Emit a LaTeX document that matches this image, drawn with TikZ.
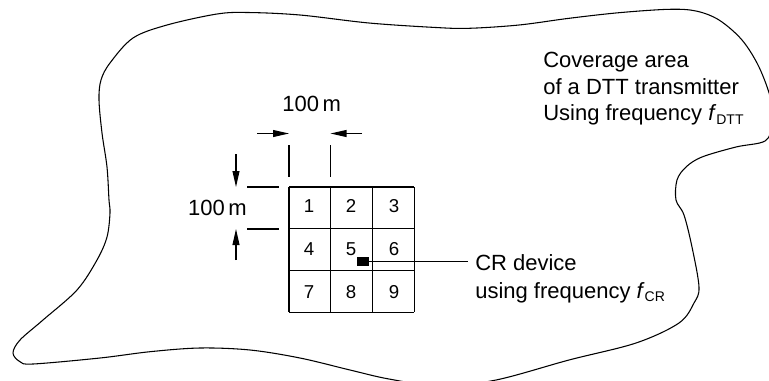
\documentclass[tikz,border=0pt]{standalone}
\usepackage{fontspec}
\setmainfont{Liberation Sans}
\usetikzlibrary{arrows.meta}
% italic f with a lowered upright subscript
\newcommand\fsub[1]{\textit{f}\raisebox{-2.5pt}{\fontsize{10.5}{12}\selectfont #1}}
\begin{document}
\begin{tikzpicture}[x=0.75pt,y=-0.75pt,
  lbl/.style={font=\fontsize{16.5}{20}\selectfont, inner sep=0pt, anchor=base west},
  dimlbl/.style={font=\fontsize{16.5}{20}\selectfont, inner sep=0pt, anchor=base},
  num/.style={font=\fontsize{14}{16}\selectfont, inner sep=0pt, anchor=base},
  outline/.style={line width=0.8pt},
  gridline/.style={line width=0.9pt},
  tickthick/.style={line width=1.5pt},
  tickthin/.style={line width=0.9pt},
  dimarrow/.style={line width=0.8pt, -{Triangle[length=12pt,width=5.2pt]}},
  lead/.style={line width=0.8pt}]
\useasboundingbox (0,0) rectangle (769,380);
\clip (0,0) rectangle (769,380);

% coverage area outline
\draw[outline] plot[smooth cycle, tension=0.55] coordinates {
  (248,12.5) (300,15) (369,23) (436,27.5) (469,28.3) (519,25) (569,18.3)
  (619,12.7) (669,9.3) (696,11) (719,20) (742,40) (759,67) (771,100)
  (772,125) (765,141) (736,147) (702,157) (686,167) (677,180) (676,200)
  (684,215) (692,247) (699,287) (694,303) (679,323) (636,343) (569,360)
  (496,380) (440,386) (389,379) (350,370) (300,358) (250,350) (200,348)
  (150,351.7) (100,358) (33,364) (20,361.7) (13,353) (20,340) (43,320)
  (77,290) (97,260) (107,237) (110,213) (109,200) (107,167) (102,133)
  (99,100) (101,80) (110,63) (133,38) (167,25) (217,14)};

% 3x3 grid of cells
\foreach \i in {0,1,2,3} {
  \draw[gridline] (289,{187+41.8*\i}) -- (414.4,{187+41.8*\i});
  \draw[gridline] ({289+41.8*\i},187) -- ({289+41.8*\i},312.4);
}
\node[num] (c1) at (309,212) {1};
\node[num] (c2) at (351,212) {2};
\node[num] (c3) at (394,212) {3};
\node[num] (c4) at (309,255) {4};
\node[num] (c5) at (351,255) {5};
\node[num] (c6) at (394,255) {6};
\node[num] (c7) at (309,298) {7};
\node[num] (c8) at (351,298) {8};
\node[num] (c9) at (394,298) {9};

% horizontal dimension
\coordinate (vt1a) at (289,145);  \coordinate (vt1b) at (289,177);
\coordinate (vt2a) at (330.5,145); \coordinate (vt2b) at (330.5,177);
\draw[tickthick] (vt1a) -- (vt1b);
\draw[tickthin] (vt2a) -- (vt2b);
\coordinate (ha1) at (257,133.5); \coordinate (ha1e) at (289,133.5);
\coordinate (ha2) at (362,133.5); \coordinate (ha2e) at (330.5,133.5);
\draw[dimarrow] (ha1) -- (ha1e);
\draw[dimarrow] (ha2) -- (ha2e);
\node[dimlbl] (dimtop) at (311.7,111.7) {100\,m};

% vertical dimension
\coordinate (ht1a) at (247,187); \coordinate (ht1b) at (279,187);
\coordinate (ht2a) at (247,229); \coordinate (ht2b) at (279,229);
\draw[tickthick] (ht1a) -- (ht1b);
\draw[tickthick] (ht2a) -- (ht2b);
\coordinate (va1) at (236,154); \coordinate (va1e) at (236,187);
\coordinate (va2) at (236,260); \coordinate (va2e) at (236,229);
\draw[dimarrow] (va1) -- (va1e);
\draw[dimarrow] (va2) -- (va2e);
\node[dimlbl] (dimleft) at (217.5,215) {100\,m};

% CR device and its label
\node[fill=black, inner sep=0pt, minimum width=8.8pt, minimum height=7.3pt] (cr) at (363.2,261.5) {};
\coordinate (crend) at (468,261.5);
\draw[lead] (cr.east) -- (crend);
\node[lbl] (crl1) at (475,270.7) {CR device};
\node[lbl] (crl2) at (475,298.3) {using frequency \fsub{CR}};

% coverage area label
\node[lbl] (cov1) at (543,67.7) {Coverage area};
\node[lbl] (cov2) at (543,94.3) {of a DTT transmitter};
\node[lbl] (cov3) at (543,120.7) {Using frequency \fsub{DTT}};
\end{tikzpicture}
\end{document}
